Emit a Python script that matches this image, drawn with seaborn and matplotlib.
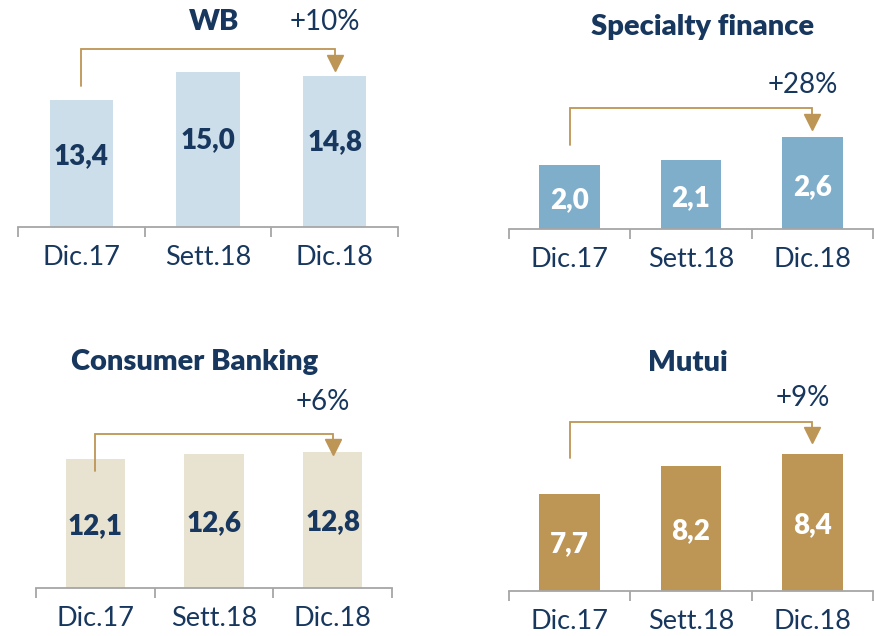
import matplotlib
matplotlib.use("Agg")
import matplotlib.pyplot as plt
import seaborn as sns

categories = ["Dic.17", "Sett.18", "Dic.18"]
wb_values = [13.4, 15.0, 14.8]
sf_values = [2.0, 2.1, 2.6]
cb_values = [12.1, 12.6, 12.8]
mutui_values = [7.7, 8.2, 8.4]
titles = ["WB", "Specialty finance", "Consumer Banking", "Mutui"]
changes = ["+10%", "+28%", "+6%", "+9%"]

NAVY = "#17375E"
GOLD = "#BD9555"
GREY = "#A6A6A6"
W, H = 874, 636

sns.set_theme(style="white")
plt.rcParams["font.family"] = ["Lato", "DejaVu Sans"]

# layout in pixels: (left, right, top, baseline), y-range, title centre, bracket offsets
panels = [
    dict(values=wb_values, color="#CCDEEA", text=NAVY, box=(18, 398, 0, 227), ylim=(6.06, 19.18),
         title_xy=(214, 22), label_frac=0.56, bracket=23, stub=14, tip=5, pct_gap=27),
    dict(values=sf_values, color="#7FAECB", text="white", box=(509, 873, 0, 229), ylim=(0.63, 5.53),
         title_xy=(703, 27), label_frac=0.45, bracket=29, stub=20, tip=7, pct_gap=23),
    dict(values=cb_values, color="#E8E2D1", text=NAVY, box=(36, 392, 330, 588), ylim=(0.0, 24.2),
         title_xy=(195, 362), label_frac=0.48, bracket=18, stub=-12, tip=-3, pct_gap=32),
    dict(values=mutui_values, color=GOLD, text="white", box=(509, 873, 330, 591), ylim=(6.0, 10.58),
         title_xy=(688, 363), label_frac=0.48, bracket=32, stub=36, tip=12, pct_gap=24),
]

fig = plt.figure(figsize=(W / 100, H / 100), dpi=100)


def px2data(ax, px):
    y0, y1 = ax.get_ylim()
    return px * (y1 - y0) / ax.bbox.height


def draw_panel(p, title, change):
    left, right, top, base = p["box"]
    ax = fig.add_axes([left / W, 1 - base / H, (right - left) / W, (base - top) / H])
    sns.barplot(x=categories, y=p["values"], color=p["color"], saturation=1, width=0.5,
                linewidth=0, ax=ax)
    ax.set_xlim(-0.5, 2.5)
    ax.set_ylim(*p["ylim"])
    ax.set_yticks([])
    for side in ["left", "right", "top"]:
        ax.spines[side].set_visible(False)
    ax.spines["bottom"].set_color(GREY)
    ax.spines["bottom"].set_linewidth(1.3)
    ax.set_xticks([0, 1, 2])
    ax.set_xticklabels(categories, fontsize=19.5, color=NAVY)
    ax.set_xticks([-0.5, 0.5, 1.5, 2.5], minor=True)
    ax.tick_params(axis="x", which="major", length=0, pad=13)
    ax.tick_params(axis="x", which="minor", length=7, width=1.3, color=GREY, direction="out", bottom=True)

    y0 = ax.get_ylim()[0]
    for i, v in enumerate(p["values"]):
        ax.text(i, y0 + p["label_frac"] * (v - y0), f"{v:.1f}".replace(".", ","),
                ha="center", va="center", fontsize=20, fontweight="heavy", color=p["text"])

    # growth bracket from first to last bar
    vals = p["values"]
    top_y = max(vals) + px2data(ax, p["bracket"])
    stub_y = vals[0] + px2data(ax, p["stub"])
    tip_y = vals[-1] + px2data(ax, p["tip"])
    head = px2data(ax, 15)
    ax.plot([0, 0, 2, 2], [stub_y, top_y, top_y, tip_y + head], color=GOLD, lw=1.3,
            solid_joinstyle="miter")
    ax.plot([2], [tip_y + head / 2], marker="v", markersize=11, color=GOLD, linestyle="none")
    ax.annotate(change, (2, top_y), xytext=(-10, p["pct_gap"]), textcoords="offset pixels",
                ha="center", va="center", fontsize=20, color=NAVY)

    tx, ty = p["title_xy"]
    fig.text(tx / W, 1 - ty / H, title, ha="center", va="center", fontsize=21,
             fontweight="heavy", color=NAVY)


for p, title, change in zip(panels, titles, changes):
    draw_panel(p, title, change)

fig.savefig("out.png", dpi=100)
